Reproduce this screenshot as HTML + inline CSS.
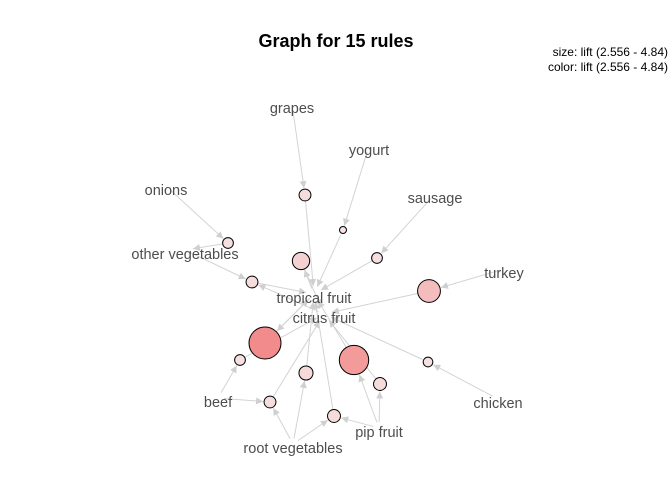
<!DOCTYPE html>
<html><head><meta charset="utf-8"><style>
body{margin:0;background:#fff}
svg{display:block;font-family:"Liberation Sans",Arial,sans-serif}
</style></head><body>
<svg id="g" width="672" height="480">
<defs><marker id="ah" viewBox="0 0 10 10" refX="10" refY="5" markerWidth="9" markerHeight="7" orient="auto" markerUnits="userSpaceOnUse"><path d="M0,0L10,5L0,10z" fill="#cfcfcf"/></marker></defs>
<text x="336" y="47" text-anchor="middle" font-size="18" font-weight="bold" fill="#000">Graph for 15 rules</text>
<text x="668" y="56" text-anchor="end" font-size="12" fill="#000">size: lift (2.556 - 4.84)</text>
<text x="668" y="71" text-anchor="end" font-size="12" fill="#000">color: lift (2.556 - 4.84)</text>
<g id="edges"></g><g id="nodes"></g><g id="labels"></g>
</svg>
<script>
const itemNames=["grapes","yogurt","onions","sausage","other vegetables","turkey","tropical fruit","citrus fruit","beef","chicken","root vegetables","pip fruit"];
const itemX=[292,369,166,435,185,504,314,324,218,498,293,379];
const itemY=[108,150,190,198,254,273,298,318,402,403,448,432];
const ruleX=[305,343,228,377,301,252,429,265,240,354,428,306,380,270,334];
const ruleY=[195,230,243,258,261,282,291,343,360,360,362,373,384,402,416];
const ruleLift=[3.0,2.556,2.9,2.9,3.5,3.0,4.0,4.84,2.9,4.6,2.8,3.2,3.1,3.0,3.1];
const ruleFrom=[[0],[1],[2],[3],[6],[4,7],[5],[6],[8],[11],[9],[10],[11],[8,10],[10,11]];
const ruleTo=[6,6,4,6,7,6,7,6,7,6,7,6,7,7,6];
const NS="http://www.w3.org/2000/svg";
const E=document.getElementById('edges'),N=document.getElementById('nodes'),L=document.getElementById('labels');
const lo=2.556,hi=4.84;
function rad(l){return 3.5+(l-lo)/(hi-lo)*12.5;}
function col(l){let t=(l-lo)/(hi-lo);t=Math.pow(t,1.8);const g=Math.round(226-t*(226-139));return `rgb(${Math.round(246-t*4)},${g},${g})`;}
function line(x1,y1,x2,y2,pad){
 const dx=x2-x1,dy=y2-y1,d=Math.hypot(dx,dy);
 const el=document.createElementNS(NS,'line');
 el.setAttribute('x1',x1+dx/d*6);el.setAttribute('y1',y1+dy/d*6);
 el.setAttribute('x2',x2-dx/d*pad);el.setAttribute('y2',y2-dy/d*pad);
 el.setAttribute('stroke','#d3d3d3');el.setAttribute('stroke-width','1');el.setAttribute('marker-end','url(#ah)');
 
 
 E.appendChild(el);
}
ruleX.forEach((x,i)=>{
 const y=ruleY[i],r=rad(ruleLift[i]);
 ruleFrom[i].forEach(f=>line(itemX[f],itemY[f]-4,x,y,r+1));
 const t=ruleTo[i];line(x,y,itemX[t],itemY[t]-4,8);
 const c=document.createElementNS(NS,'circle');
 c.setAttribute('cx',x);c.setAttribute('cy',y);c.setAttribute('r',r);
 c.setAttribute('fill',col(ruleLift[i]));c.setAttribute('stroke','#000');c.setAttribute('stroke-width','1');
 
 
 N.appendChild(c);
});
itemNames.forEach((n,i)=>{
 const t=document.createElementNS(NS,'text');
 t.setAttribute('x',itemX[i]);t.setAttribute('y',itemY[i]+5);t.setAttribute('text-anchor','middle');
 t.setAttribute('font-size','14.5');t.setAttribute('fill','#4d4d4d');t.textContent=n;
 
 
 L.appendChild(t);
});
</script>
</body></html>
